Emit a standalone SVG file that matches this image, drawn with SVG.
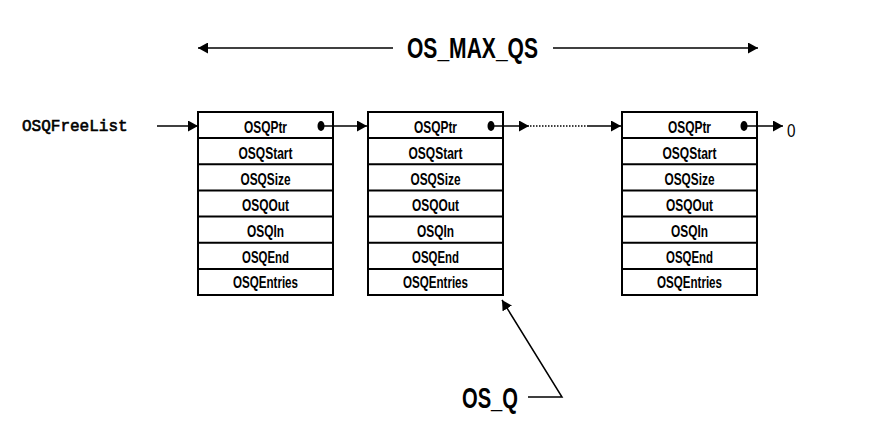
<svg xmlns="http://www.w3.org/2000/svg" width="870" height="445" viewBox="0 0 870 445">
<style>
.frame{fill:#fff;stroke:#000;stroke-width:2}
.sep{stroke:#000;stroke-width:2}
.cell{font-family:"Liberation Sans",Arial,sans-serif;font-weight:bold;font-size:17px;text-anchor:middle;fill:#000}
.big{font-family:"Liberation Sans",Arial,sans-serif;font-weight:bold;fill:#000}
.mono{font-family:"Liberation Mono","Courier New",monospace;font-size:16px;fill:#000;stroke:#000;stroke-width:0.6}
.conn{stroke:#000;stroke-width:1.5;fill:none}
.dot{fill:#000}
</style>
<defs>
<marker id="ah" markerUnits="userSpaceOnUse" markerWidth="11" markerHeight="11" refX="10" refY="5.5" orient="auto">
<path d="M0,0 L10,5.5 L0,11 Z" fill="#000"/>
</marker>
</defs>

<g id="label-osqfreelist"><text class="mono" x="22" y="131">OSQFreeList</text></g>
<g id="label-os-max-qs"><text class="big" x="407" y="58" font-size="29" textLength="131" lengthAdjust="spacingAndGlyphs">OS_MAX_QS</text></g>
<g id="label-os-q"><text class="big" x="462" y="408" font-size="30" textLength="56" lengthAdjust="spacingAndGlyphs">OS_Q</text></g>
<g id="label-zero"><text x="787" y="137" fill="#000" font-family="'Liberation Sans',Arial,sans-serif" font-size="19" textLength="8.5" lengthAdjust="spacingAndGlyphs">0</text></g>

<g id="box1">
<rect class="frame" x="198" y="112" width="135" height="183"/>
<path class="sep" d="M198,138.1H333M198,164.3H333M198,190.4H333M198,216.6H333M198,242.7H333M198,268.9H333"/>
<text class="cell" x="265.5" y="133" textLength="43" lengthAdjust="spacingAndGlyphs">OSQPtr</text>
<text class="cell" x="265.5" y="159" textLength="54" lengthAdjust="spacingAndGlyphs">OSQStart</text>
<text class="cell" x="265.5" y="185" textLength="50" lengthAdjust="spacingAndGlyphs">OSQSize</text>
<text class="cell" x="265.5" y="211" textLength="47" lengthAdjust="spacingAndGlyphs">OSQOut</text>
<text class="cell" x="265.5" y="237" textLength="37" lengthAdjust="spacingAndGlyphs">OSQIn</text>
<text class="cell" x="265.5" y="263" textLength="47" lengthAdjust="spacingAndGlyphs">OSQEnd</text>
<text class="cell" x="265.5" y="288" textLength="65" lengthAdjust="spacingAndGlyphs">OSQEntries</text>
<ellipse class="dot" cx="321" cy="126" rx="3.5" ry="5"/>
</g>

<g id="box2">
<rect class="frame" x="368" y="112" width="135" height="183"/>
<path class="sep" d="M368,138.1H503M368,164.3H503M368,190.4H503M368,216.6H503M368,242.7H503M368,268.9H503"/>
<text class="cell" x="435.5" y="133" textLength="43" lengthAdjust="spacingAndGlyphs">OSQPtr</text>
<text class="cell" x="435.5" y="159" textLength="54" lengthAdjust="spacingAndGlyphs">OSQStart</text>
<text class="cell" x="435.5" y="185" textLength="50" lengthAdjust="spacingAndGlyphs">OSQSize</text>
<text class="cell" x="435.5" y="211" textLength="47" lengthAdjust="spacingAndGlyphs">OSQOut</text>
<text class="cell" x="435.5" y="237" textLength="37" lengthAdjust="spacingAndGlyphs">OSQIn</text>
<text class="cell" x="435.5" y="263" textLength="47" lengthAdjust="spacingAndGlyphs">OSQEnd</text>
<text class="cell" x="435.5" y="288" textLength="65" lengthAdjust="spacingAndGlyphs">OSQEntries</text>
<ellipse class="dot" cx="491" cy="126" rx="3.5" ry="5"/>
</g>

<g id="box3">
<rect class="frame" x="622" y="112" width="135" height="183"/>
<path class="sep" d="M622,138.1H757M622,164.3H757M622,190.4H757M622,216.6H757M622,242.7H757M622,268.9H757"/>
<text class="cell" x="689.5" y="133" textLength="43" lengthAdjust="spacingAndGlyphs">OSQPtr</text>
<text class="cell" x="689.5" y="159" textLength="54" lengthAdjust="spacingAndGlyphs">OSQStart</text>
<text class="cell" x="689.5" y="185" textLength="50" lengthAdjust="spacingAndGlyphs">OSQSize</text>
<text class="cell" x="689.5" y="211" textLength="47" lengthAdjust="spacingAndGlyphs">OSQOut</text>
<text class="cell" x="689.5" y="237" textLength="37" lengthAdjust="spacingAndGlyphs">OSQIn</text>
<text class="cell" x="689.5" y="263" textLength="47" lengthAdjust="spacingAndGlyphs">OSQEnd</text>
<text class="cell" x="689.5" y="288" textLength="65" lengthAdjust="spacingAndGlyphs">OSQEntries</text>
<ellipse class="dot" cx="744" cy="126" rx="3.5" ry="5"/>
</g>

<g id="connectors">
<line class="conn" x1="157" y1="126" x2="198" y2="126" marker-end="url(#ah)"/>
<line class="conn" x1="321" y1="126" x2="367" y2="126" marker-end="url(#ah)"/>
<line class="conn" x1="491" y1="126" x2="529" y2="126" marker-end="url(#ah)"/>
<line class="conn" x1="530" y1="126" x2="588" y2="126" stroke-dasharray="1.5,1.5"/>
<line class="conn" x1="588" y1="126" x2="621" y2="126" marker-end="url(#ah)"/>
<line class="conn" x1="744" y1="126" x2="783" y2="126" marker-end="url(#ah)"/>
<line class="conn" x1="393" y1="48" x2="198" y2="48" marker-end="url(#ah)"/>
<line class="conn" x1="553" y1="48" x2="758" y2="48" marker-end="url(#ah)"/>
<polyline class="conn" points="528,397 562,397 502,300" marker-end="url(#ah)"/>
</g>
</svg>
